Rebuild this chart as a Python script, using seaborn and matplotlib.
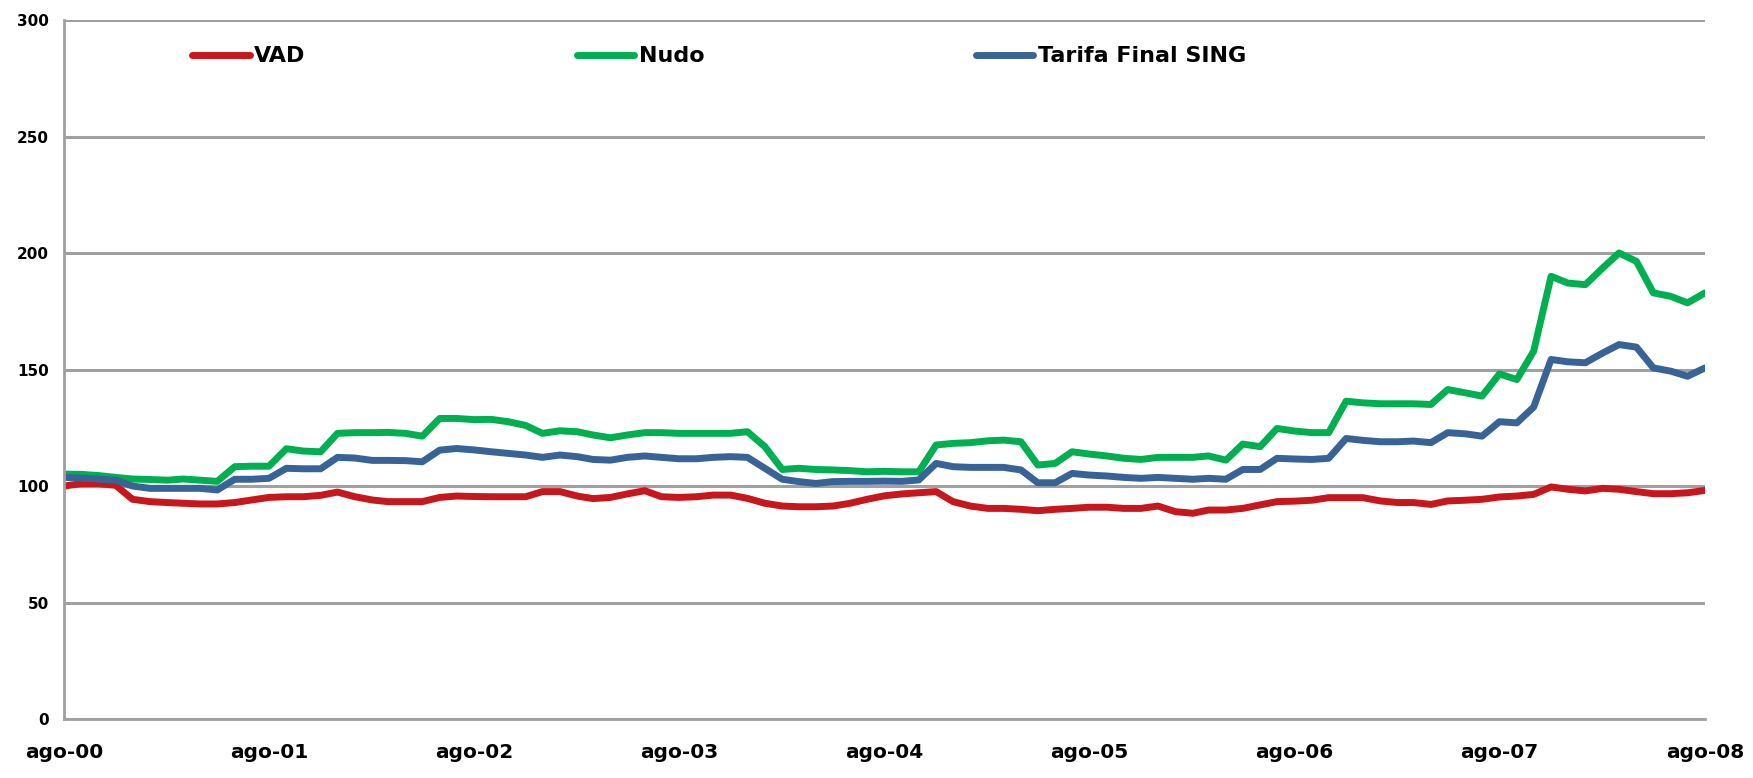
import matplotlib
matplotlib.use("Agg")
import matplotlib.pyplot as plt
import pandas as pd
import seaborn as sns

# monthly index, ago-2000 .. ago-2008
meses = pd.date_range("2000-08-01", periods=97, freq="MS")

vad = [100, 101, 101, 100.3, 94.3, 93.3, 92.9, 92.6, 92.3, 92.3, 92.9, 94, 95.1, 95.4, 95.4, 96,
       97.4, 95.4, 94, 93.3, 93.3, 93.3, 95.1, 95.7, 95.5, 95.4, 95.4, 95.4, 97.6, 97.6, 95.7, 94.6,
       95.1, 96.6, 98, 95.4, 95.1, 95.4, 96.1, 96.1, 94.7, 92.6, 91.4, 91.1, 91.1, 91.4, 92.6, 94.3,
       95.8, 96.6, 97.1, 97.6, 93.3, 91.4, 90.4, 90.4, 90, 89.4, 90, 90.4, 90.9, 90.9, 90.4, 90.4,
       91.4, 89, 88.3, 89.7, 89.7, 90.4, 91.9, 93.3, 93.5, 93.9, 95, 95, 95, 93.6, 92.9, 92.9,
       92.1, 93.6, 93.9, 94.3, 95.3, 95.7, 96.4, 99.6, 98.6, 97.9, 99, 98.6, 97.6, 96.7, 96.7, 97.1,
       98.1]

nudo = [105.1, 105, 104.5, 103.7, 103, 102.8, 102.5, 103, 102.5, 102, 108.3, 108.5, 108.5, 116, 115, 114.7,
        122.6, 122.9, 122.9, 123, 122.6, 121.4, 129, 129, 128.5, 128.6, 127.6, 126, 122.6, 123.7, 123.3, 121.9,
        120.7, 121.9, 122.9, 122.9, 122.6, 122.6, 122.6, 122.6, 123.3, 116.9, 107.1, 107.6, 107.1, 106.9, 106.6, 106.1,
        106.3, 106.1, 106.1, 117.6, 118.3, 118.6, 119.4, 119.7, 119, 109, 109.7, 114.7, 113.7, 112.9, 111.9, 111.4,
        112.3, 112.3, 112.3, 112.9, 111.1, 118, 116.9, 124.7, 123.6, 122.9, 122.9, 136.4, 135.7, 135.3, 135.3, 135.3,
        135, 141.4, 140, 138.6, 148.1, 145.7, 157.9, 190, 187.1, 186.4, 193.6, 200, 196.4, 182.9, 181.4, 178.6,
        182.9]

tarifa = [103.7, 103.4, 103, 102.5, 100, 99, 99, 99, 99, 98.3, 102.9, 102.9, 103.3, 107.6, 107.4, 107.4,
          112.3, 112, 111, 111, 110.9, 110.4, 115.4, 116.1, 115.5, 114.7, 114, 113.3, 112.3, 113.3, 112.6, 111.4,
          111.1, 112.3, 112.9, 112.3, 111.7, 111.7, 112.3, 112.6, 112.3, 107.6, 102.9, 101.9, 101.1, 101.9, 102, 102,
          102.1, 102, 102.6, 109.7, 108.3, 108, 108, 108, 106.9, 101.4, 101.4, 105.4, 104.7, 104.3, 103.7, 103.3,
          103.7, 103.3, 102.9, 103.3, 102.9, 107.1, 107.1, 111.9, 111.6, 111.4, 111.9, 120.4, 119.6, 119, 119, 119.3,
          118.6, 122.9, 122.4, 121.4, 127.6, 127.1, 133.9, 154.3, 153.3, 152.9, 157.1, 160.7, 159.6, 150.7, 149.3, 147.1,
          150.7]

series = ["VAD", "Nudo", "Tarifa Final SING"]
colores = ["#C8161D", "#00B050", "#386396"]
anios = ["ago-0%d" % a for a in range(9)]

df = pd.DataFrame({"fecha": list(meses) * 3,
                   "valor": vad + nudo + tarifa,
                   "serie": [s for s in series for _ in range(len(meses))]})

sns.set_theme(style="white")
plt.rcParams["font.family"] = ["DejaVu Sans"]
plt.rcParams["text.color"] = "black"
plt.rcParams["xtick.labelcolor"] = "black"
plt.rcParams["ytick.labelcolor"] = "black"

fig = plt.figure(figsize=(17.53, 7.78), dpi=100)
ax = fig.add_axes([0.0365, 0.0758, 0.9361, 0.8985])

sns.lineplot(data=df, x="fecha", y="valor", hue="serie", hue_order=series,
             palette=colores, linewidth=5, ax=ax)
for ln in ax.get_lines():
    ln.set_solid_joinstyle("round")
    ln.set_solid_capstyle("round")

ax.set_ylim(0, 300)
ax.set_yticks(range(0, 301, 50))
ax.set_xlim(meses[0], meses[-1])
ax.set_xticks([pd.Timestamp("%d-08-01" % (2000 + a)) for a in range(9)])
ax.set_xticklabels(anios)
ax.set_xlabel("")
ax.set_ylabel("")

ax.grid(axis="y", color="#A0A0A0", linewidth=2.2)
ax.set_axisbelow(True)
for lado in ["top", "right"]:
    ax.spines[lado].set_visible(False)
for lado in ["left", "bottom"]:
    ax.spines[lado].set_color("#A0A0A0")
    ax.spines[lado].set_linewidth(2)

ax.tick_params(axis="y", length=7, width=2, color="#A0A0A0", labelsize=11, pad=4)
ax.tick_params(axis="x", length=8, width=2, color="#A0A0A0", labelsize=14.5, pad=9)
for lab in ax.get_xticklabels() + ax.get_yticklabels():
    lab.set_fontweight("bold")
    lab.set_color("black")

leg = ax.legend(loc="center left", bbox_to_anchor=(0.078, 0.948), ncol=3, frameon=False,
                fontsize=16, handlelength=2.6, handletextpad=0.2, columnspacing=12.2,
                borderpad=0, borderaxespad=0)
for t in leg.get_texts():
    t.set_fontweight("bold")
    t.set_color("black")
for h in leg.get_lines():
    h.set_linewidth(5)
    h.set_solid_capstyle("round")

fig.savefig("out.png", dpi=100)
